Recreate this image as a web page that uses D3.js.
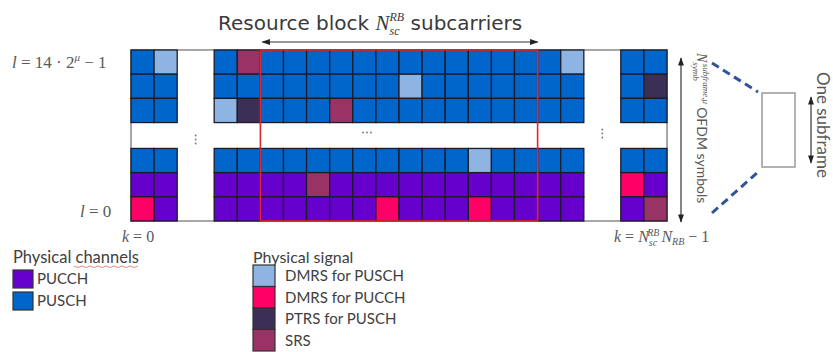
<!DOCTYPE html>
<html><head><meta charset="utf-8">
<script src="https://cdn.jsdelivr.net/npm/d3@7"></script>
<style>
html,body{margin:0;padding:0;background:#fff;}
svg{display:block;}
</style></head>
<body>
<svg id="chart" width="833" height="352"></svg>
<script>
// ---------- data ----------
const lowCols  = ["L0","L1"];
const midCols  = ["M0","M1","M2","M3","M4","M5","M6","M7","M8","M9","M10","M11","M12","M13","M14","M15"];
const highCols = ["R0","R1"];
const topRows  = ["T0","T1","T2"];
const botRows  = ["B0","B1","B2"];
const rowChannel = ["PUSCH","PUSCH","PUSCH","PUSCH","PUCCH","PUCCH"]; // T0..T2,B0..B2
const rbCols = ["M2","M13"]; // first & last subcarrier of the resource block
const signalRow  = ["T0","T0","T0","T1","T1","T2","T2","T2","B0","B1","B1","B2","B2","B2","B2"];
const signalCol  = ["L1","M1","M15","M8","R1","M0","M1","M5","M11","M4","R0","L0","M7","M11","R1"];
const signalType = ["DMRS_PUSCH","SRS","DMRS_PUSCH","DMRS_PUSCH","PTRS","DMRS_PUSCH","PTRS","SRS","DMRS_PUSCH","SRS","DMRS_PUCCH","DMRS_PUCCH","DMRS_PUCCH","DMRS_PUCCH","SRS"];
const channelKeys   = ["PUCCH","PUSCH"];
const channelLabels = ["PUCCH","PUSCH"];
const signalKeys    = ["DMRS_PUSCH","DMRS_PUCCH","PTRS","SRS"];
const signalLabels  = ["DMRS for PUSCH","DMRS for PUCCH","PTRS for PUSCH","SRS"];

// ---------- style ----------
const color = d3.scaleOrdinal()
  .domain(["PUSCH","PUCCH","DMRS_PUSCH","DMRS_PUCCH","PTRS","SRS"])
  .range(["#0066cc","#6600cc","#8db4e2","#ff0066","#3b2f55","#993366"]);

const svg = d3.select("#chart");
const GAPX = 1.6, GAPY = 1.07;
const colUnit = new Map();
lowCols.forEach((c,i)=>colUnit.set(c,i));
midCols.forEach((c,i)=>colUnit.set(c,lowCols.length+GAPX+i));
highCols.forEach((c,i)=>colUnit.set(c,lowCols.length+GAPX+midCols.length+GAPX+i));
const totalX = lowCols.length+GAPX+midCols.length+GAPX+highCols.length;
const rowUnit = new Map();
topRows.forEach((r,i)=>rowUnit.set(r,i));
botRows.forEach((r,i)=>rowUnit.set(r,topRows.length+GAPY+i));
const totalY = topRows.length+GAPY+botRows.length;

const x = d3.scaleLinear().domain([0,totalX]).range([131,667]);
const y = d3.scaleLinear().domain([0,totalY]).range([50,221]);
const allCols = lowCols.concat(midCols, highCols);
const allRows = topRows.concat(botRows);

const grey = "#595959";

// outer frame
svg.append("rect").attr("x",x(0)).attr("y",y(0))
  .attr("width",x(totalX)-x(0)).attr("height",y(totalY)-y(0))
  .attr("fill","none").attr("stroke","#8a8a8a").attr("stroke-width",1.5);

// channel cells
const cells = [];
allRows.forEach((r,ri)=>allCols.forEach(c=>cells.push({r,c,t:rowChannel[ri]})));
const sigMap = new Map();
signalRow.forEach((r,i)=>sigMap.set(r+"|"+signalCol[i], signalType[i]));
cells.forEach(d=>{ const s=sigMap.get(d.r+"|"+d.c); if(s) d.t=s; });

svg.append("g").selectAll("rect").data(cells).join("rect")
  .attr("x",d=>x(colUnit.get(d.c)))
  .attr("y",d=>y(rowUnit.get(d.r)))
  .attr("width",d=>x(colUnit.get(d.c)+1)-x(colUnit.get(d.c)))
  .attr("height",d=>y(rowUnit.get(d.r)+1)-y(rowUnit.get(d.r)))
  .attr("fill",d=>color(d.t))
  .attr("stroke","#1c1c2a").attr("stroke-width",1.3);

// resource block outline
svg.append("rect")
  .attr("x",x(colUnit.get(rbCols[0]))).attr("y",y(0))
  .attr("width",x(colUnit.get(rbCols[1])+1)-x(colUnit.get(rbCols[0])))
  .attr("height",y(totalY)-y(0))
  .attr("fill","none").attr("stroke","#e3262e").attr("stroke-width",1.6);

// ellipses
const gapMidY = y(topRows.length+GAPY/2);
function vdots(cx, cy){
  [-4,0,4].forEach(o=>svg.append("circle").attr("cx",cx).attr("cy",cy+o).attr("r",0.9).attr("fill","#777"));
}
vdots((x(lowCols.length)+x(lowCols.length+GAPX))/2, gapMidY+4);
vdots((x(totalX-highCols.length-GAPX)+x(totalX-highCols.length))/2, gapMidY-2);
[-4,0,4].forEach(o=>svg.append("circle").attr("cx",367+o).attr("cy",gapMidY-3).attr("r",0.9).attr("fill","#777"));

// arrow markers
const defs = svg.append("defs");
function marker(id, col){
  defs.append("marker").attr("id",id).attr("viewBox","0 0 10 10").attr("refX",9).attr("refY",5)
    .attr("markerWidth",7).attr("markerHeight",7).attr("orient","auto-start-reverse")
    .append("path").attr("d","M0,1.5 L10,5 L0,8.5 Z").attr("fill",col);
}
marker("arr","#222");

// title
const title = svg.append("text").attr("x",218).attr("y",30)
  .attr("font-family","DejaVu Sans").attr("font-size",20).attr("fill","#3a3a3a");
title.append("tspan").text("Resource block ");
title.append("tspan").attr("font-family","Liberation Serif").attr("font-style","italic").attr("font-size",21).text("N");
title.append("tspan").attr("font-family","Liberation Serif").attr("font-style","italic").attr("font-size",12).attr("dy",5).text("sc");
title.append("tspan").attr("font-family","Liberation Serif").attr("font-style","italic").attr("font-size",12).attr("dx",-10).attr("dy",-14).text("RB");
title.append("tspan").attr("dy",9).text(" subcarriers");

// RB width arrow
svg.append("line").attr("x1",x(colUnit.get(rbCols[0]))+2).attr("x2",x(colUnit.get(rbCols[1])+1))
  .attr("y1",42).attr("y2",42).attr("stroke","#333").attr("stroke-width",1.2)
  .attr("marker-start","url(#arr)").attr("marker-end","url(#arr)");

// left labels
function mathText(px, py, parts, size){
  const t = svg.append("text").attr("x",px).attr("y",py)
    .attr("font-family","Liberation Serif").attr("font-size",size).attr("fill",grey);
  parts.forEach(p=>{
    const s=t.append("tspan").text(p.t);
    if(p.i) s.attr("font-style","italic");
    if(p.fs) s.attr("font-size",p.fs);
    if(p.dy) s.attr("dy",p.dy);
    if(p.dx) s.attr("dx",p.dx);
  });
  return t;
}
mathText(12, 68, [{t:"l",i:1},{t:" = 14 · 2"},{t:"μ",i:1,fs:11,dy:-7},{t:" − 1",dy:7}], 17);
mathText(80, 217, [{t:"l",i:1},{t:" = 0"}], 17);
mathText(122, 242, [{t:"k",i:1},{t:" = 0"}], 16);
mathText(614, 242, [{t:"k",i:1},{t:" = "},{t:"N",i:1},{t:"sc",i:1,fs:10,dy:4},{t:"RB",i:1,fs:10,dx:-10,dy:-10},{t:"N",i:1,dy:6,dx:2},{t:"RB",i:1,fs:10,dy:3},{t:" − 1",dy:-3}], 16);

// right side: symbols arrow
svg.append("line").attr("x1",681).attr("x2",681).attr("y1",58).attr("y2",222)
  .attr("stroke","#333").attr("stroke-width",1.2)
  .attr("marker-start","url(#arr)").attr("marker-end","url(#arr)");
const rt = svg.append("text").attr("transform","translate(697,53) rotate(90)")
  .attr("font-family","Lato").attr("font-size",14).attr("fill",grey);
rt.append("tspan").attr("font-family","Liberation Serif").attr("font-style","italic").text("N");
rt.append("tspan").attr("font-size",9).attr("font-style","italic").attr("font-family","Liberation Serif").attr("dy",4).text("symb");
rt.append("tspan").attr("font-size",9).attr("font-style","italic").attr("font-family","Liberation Serif").attr("dx",-17).attr("dy",-10).text("subframe,μ");
rt.append("tspan").attr("dy",6).attr("dx",3).text("OFDM symbols");

// dashed zoom lines
svg.append("line").attr("x1",712).attr("y1",63).attr("x2",758).attr("y2",92)
  .attr("stroke","#2f5597").attr("stroke-width",3).attr("stroke-dasharray","8,5");
svg.append("line").attr("x1",712).attr("y1",213).attr("x2",758).attr("y2",172)
  .attr("stroke","#2f5597").attr("stroke-width",3).attr("stroke-dasharray","8,5");
svg.append("rect").attr("x",762).attr("y",93).attr("width",33).attr("height",74)
  .attr("fill","none").attr("stroke","#9a9a9a").attr("stroke-width",1.5);
svg.append("line").attr("x1",811).attr("x2",811).attr("y1",97).attr("y2",163)
  .attr("stroke","#333").attr("stroke-width",1.2)
  .attr("marker-start","url(#arr)").attr("marker-end","url(#arr)");
svg.append("text").attr("transform","translate(817,72) rotate(90)")
  .attr("font-family","Lato").attr("font-size",17).attr("fill",grey).text("One subframe");

// legends
const lf = "Lato";
svg.append("text").attr("x",13).attr("y",263).attr("font-family",lf).attr("font-size",16.5).attr("fill","#404040").text("Physical channels");
svg.append("path").attr("d",d3.range(0,68,4).map((o,i)=>(i?"L":"M")+(74+o)+","+(266+(i%2?1.5:0))).join(""))
  .attr("fill","none").attr("stroke","#e88","stroke-width",0.8);
const ch = svg.append("g").selectAll("g").data(channelKeys).join("g")
  .attr("transform",(d,i)=>`translate(13,${270+i*22})`);
ch.append("rect").attr("width",20).attr("height",18).attr("fill",d=>color(d)).attr("stroke","#333").attr("stroke-width",1.2);
ch.append("text").attr("x",24).attr("y",14).attr("font-family",lf).attr("font-size",15).attr("fill","#404040").text((d,i)=>channelLabels[i]);

svg.append("text").attr("x",253).attr("y",263).attr("font-family",lf).attr("font-size",16).attr("fill","#404040").text("Physical signal");
const sg = svg.append("g").selectAll("g").data(signalKeys).join("g")
  .attr("transform",(d,i)=>`translate(253,${265+i*21.5})`);
sg.append("rect").attr("width",22).attr("height",21.5).attr("fill",d=>color(d)).attr("stroke","#333").attr("stroke-width",1.2);
sg.append("text").attr("x",32).attr("y",16).attr("font-family",lf).attr("font-size",15).attr("fill","#404040").text((d,i)=>signalLabels[i]);
</script>
</body></html>
